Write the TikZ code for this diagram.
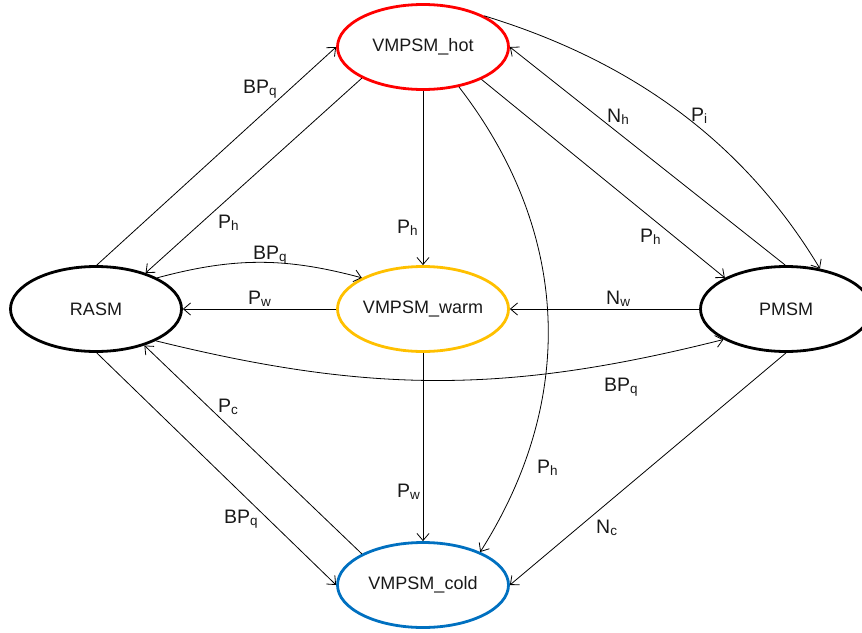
\documentclass[tikz,border=0pt]{standalone}
\usepackage{fontspec}
\setmainfont{Liberation Sans}
\usetikzlibrary{shapes.geometric,arrows.meta}
\definecolor{warmc}{HTML}{FFC000}
\definecolor{coldc}{HTML}{0070C0}
\newcommand\lsub[1]{\raisebox{-2.5pt}{\fontsize{13.5}{14}\selectfont #1}}
\begin{document}
\begin{tikzpicture}[x=1pt,y=1pt,
  state/.style={ellipse, draw, line width=2.8pt, minimum width=171pt, minimum height=85pt,
    inner sep=0pt, font=\fontsize{18}{20}\selectfont, text=black!90},
  edge/.style={line width=0.8pt, -{Straight Barb[length=7pt,width=12pt]}},
  lbl/.style={font=\fontsize{19.5}{21}\selectfont, inner sep=0pt, anchor=base west, text=black!90}]
\useasboundingbox (0,0) rectangle (862,-632);
\clip (0,0) rectangle (862,-632);
% states
\node[state, draw=red]   (hot)  at (423,-47)  {VMPSM\_hot};
\node[state, draw=warmc] (warm) at (423,-309) {VMPSM\_warm};
\node[state, draw=coldc] (cold) at (423,-585) {VMPSM\_cold};
\node[state, draw=black] (rasm) at (96,-309)  {RASM};
\node[state, draw=black] (pmsm) at (786,-309) {PMSM};
% transitions
\draw[edge] (rasm.89) -- (hot.180);
\draw[edge] (hot.207) -- (rasm.36);
\draw[edge] (rasm.27) to[bend left=15] (warm.153);
\draw[edge] (warm.180) -- (rasm.0);
\draw[edge] (hot.270) -- (warm.90);
\draw[edge] (pmsm.180) -- (warm.0);
\draw[edge] (warm.270) -- (cold.90);
\draw[edge] (rasm.332) to[bend right=14] (pmsm.206);
\draw[edge] (rasm.271) -- (cold.180);
\draw[edge] (cold.153) -- (rasm.323);
\draw[edge] (hot.331) -- (pmsm.153);
\draw[edge] (pmsm.91) -- (hot.0);
\draw[edge] (hot.27) to[out=-17, in=121, looseness=0.92] (pmsm.50);
\draw[edge] (hot.312) to[bend left=35] (cold.30);
\draw[edge] (pmsm.270) -- (cold.0);
% labels
\node[lbl] (l1)  at (243,-93)  {BP\lsub{q}};
\node[lbl] (l2)  at (218,-228) {P\lsub{h}};
\node[lbl] (l3)  at (253,-259) {BP\lsub{q}};
\node[lbl] (l4)  at (248,-304) {P\lsub{w}};
\node[lbl] (l5)  at (397,-233) {P\lsub{h}};
\node[lbl] (l6)  at (606,-304) {N\lsub{w}};
\node[lbl] (l7)  at (397,-497) {P\lsub{w}};
\node[lbl] (l8)  at (604,-391) {BP\lsub{q}};
\node[lbl] (l9)  at (224,-523) {BP\lsub{q}};
\node[lbl] (l10) at (218,-412) {P\lsub{c}};
\node[lbl] (l11) at (640,-242) {P\lsub{h}};
\node[lbl] (l12) at (607,-122) {N\lsub{h}};
\node[lbl] (l13) at (691,-121) {P\lsub{i}};
\node[lbl] (l14) at (537,-473) {P\lsub{h}};
\node[lbl] (l15) at (596,-533) {N\lsub{c}};
\end{tikzpicture}
\end{document}
